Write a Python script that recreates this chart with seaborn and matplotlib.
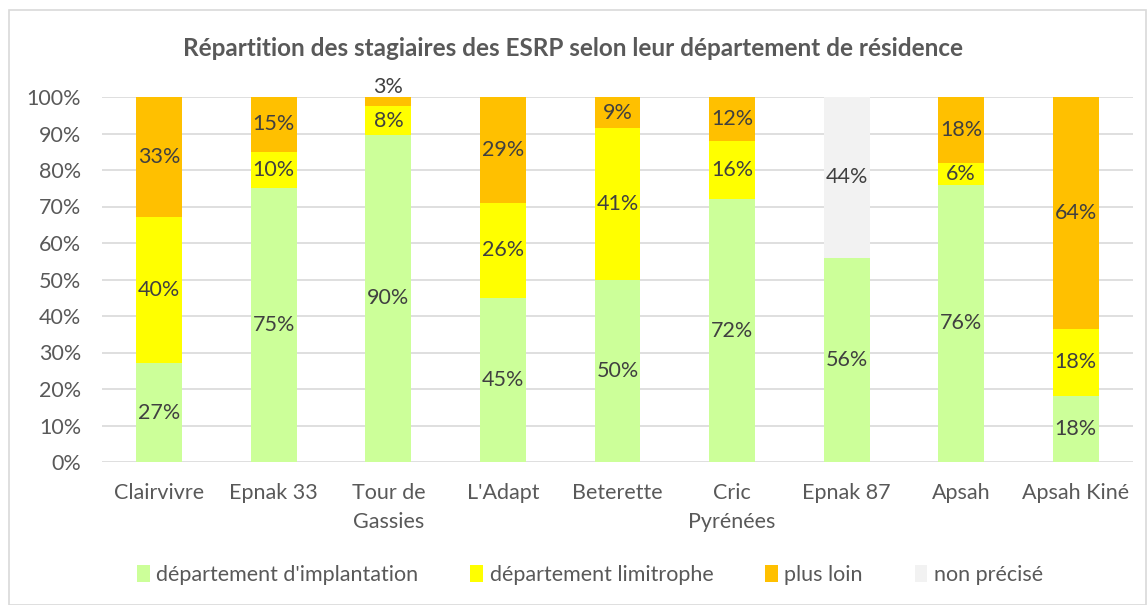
import matplotlib
matplotlib.use("Agg")
import matplotlib.pyplot as plt
import seaborn as sns
import pandas as pd
import numpy as np
from matplotlib.patches import Rectangle, Patch

categories = ["Clairvivre", "Epnak 33", "Tour de\nGassies", "L'Adapt", "Beterette",
              "Cric\nPyrénées", "Epnak 87", "Apsah", "Apsah Kiné"]
implantation = [27, 75, 89.6, 45, 50, 72, 56, 76, 18.2]
limitrophe = [40, 10, 7.8, 26, 41.4, 16, 0, 6, 18.2]
plus_loin = [33, 15, 2.6, 29, 8.6, 12, 0, 18, 63.6]
non_precise = [0, 0, 0, 0, 0, 0, 44, 0, 0]
series_names = ["département d'implantation", "département limitrophe", "plus loin", "non précisé"]
colors = ["#CCFF99", "#FFFF00", "#FFC000", "#F2F2F2"]
title = "Répartition des stagiaires des ESRP selon leur département de résidence"
yticks = [0, 10, 20, 30, 40, 50, 60, 70, 80, 90, 100]

sns.set_theme(style="white")
plt.rcParams['font.family'] = ['Lato', 'DejaVu Sans']

FS = 15.5

fig = plt.figure(figsize=(11.47, 6.05), dpi=100)
ax = fig.add_axes([102/1147, 1-462/605, (1133-102)/1147, (462-97)/605])

df = pd.DataFrame({"cat": categories, "s0": implantation, "s1": limitrophe,
                   "s2": plus_loin, "s3": non_precise})
series = [implantation, limitrophe, plus_loin, non_precise]
bottom = np.zeros(len(categories))
for i, vals in enumerate(series):
    sns.barplot(x="cat", y=f"s{i}", data=df, color=colors[i], bottom=bottom,
                width=0.40, ax=ax, linewidth=0, saturation=1, zorder=3)
    for j, v in enumerate(vals):
        if v > 0:
            if v < 5:
                ypos = bottom[j] + v + 2.8
            else:
                ypos = bottom[j] + v / 2
            ax.text(j, ypos, f"{v:.0f}%", ha="center", va="center",
                    fontsize=FS, color="#404040", zorder=5, clip_on=False)
    bottom = bottom + np.array(vals)

ax.set_ylim(0, 100)
ax.set_xlim(-0.5, len(categories) - 0.5)
ax.set_yticks(yticks)
ax.set_yticklabels([f"{t}%" for t in yticks], fontsize=FS, color="#595959")
ax.set_xticks(range(len(categories)))
ax.set_xticklabels(categories, fontsize=FS, color="#595959", linespacing=1.55)
ax.tick_params(axis="both", length=0)
ax.tick_params(axis="x", pad=15)
ax.tick_params(axis="y", pad=15)
ax.set_xlabel("")
ax.set_ylabel("")
for s in ax.spines.values():
    s.set_visible(False)
ax.yaxis.grid(True, color="#D9D9D9", linewidth=1.2, zorder=0)
ax.set_axisbelow(True)

fig.text(573/1147, 1-48/605, title, ha="center", va="center", fontsize=17.5,
         fontweight="bold", color="#595959")

handles = [Patch(facecolor=c, edgecolor="none") for c in colors]
fig.legend(handles, series_names, loc="center", bbox_to_anchor=(590/1147, 1-575/605),
           ncol=4, frameon=False, fontsize=FS, handlelength=0.6, handleheight=0.8,
           handletextpad=0.3, columnspacing=2.4, labelcolor="#595959")

fig.patches.append(Rectangle((9/1147, 0.5/605), (1146-9)/1147, 1-10.5/605,
                             transform=fig.transFigure, fill=False,
                             edgecolor="#D9D9D9", linewidth=1.2))

fig.savefig("out.png", dpi=100)
